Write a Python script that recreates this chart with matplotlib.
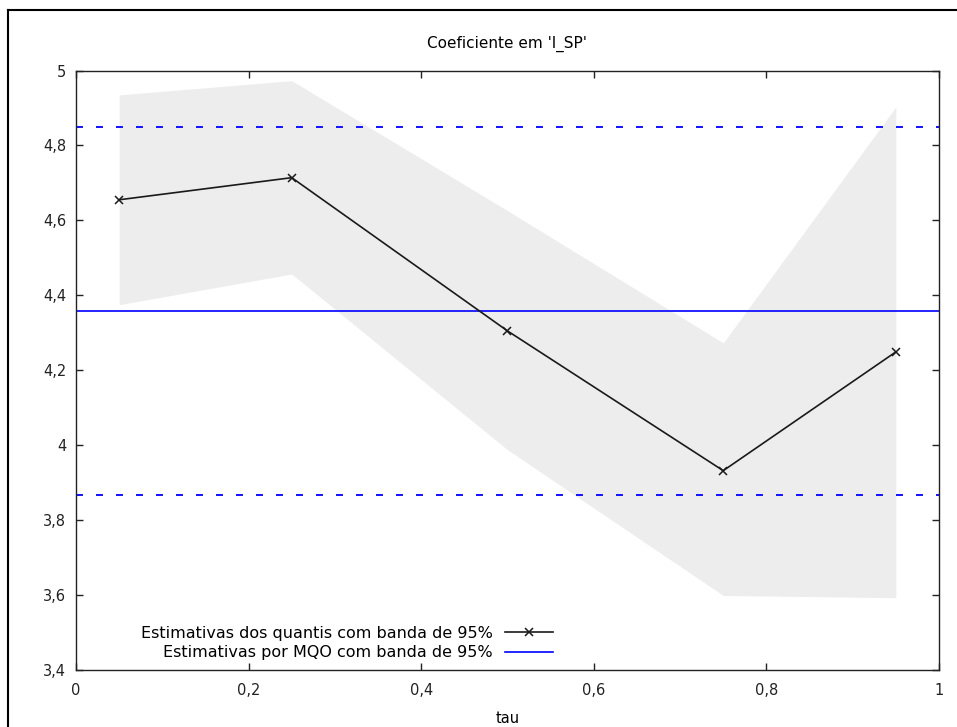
import matplotlib
matplotlib.use('Agg')
import matplotlib.pyplot as plt
from matplotlib.lines import Line2D

# quantile regression estimates of the coefficient on l_SP
tau = [0.05, 0.25, 0.50, 0.75, 0.95]
coef = [4.655, 4.714, 4.305, 3.932, 4.249]
band_low = [4.375, 4.457, 3.988, 3.599, 3.593]
band_high = [4.935, 4.973, 4.626, 4.273, 4.903]

# OLS estimate with 95% band
ols = 4.358
ols_low = 3.866
ols_high = 4.850

xticks = [0, 0.2, 0.4, 0.6, 0.8, 1.0]
xtick_labels = ['0', '0,2', '0,4', '0,6', '0,8', '1']
yticks = [3.4, 3.6, 3.8, 4.0, 4.2, 4.4, 4.6, 4.8, 5.0]
ytick_labels = ['3,4', '3,6', '3,8', '4', '4,2', '4,4', '4,6', '4,8', '5']

plt.rcParams['font.family'] = 'DejaVu Sans'
plt.rcParams['lines.scale_dashes'] = False

fig = plt.figure(figsize=(9.57, 7.27), dpi=100)
ax = fig.add_axes([0.0794, 0.0784, 0.9018, 0.8246])

ax.fill_between(tau, band_low, band_high, color='#ededed', linewidth=0, zorder=1)
ax.axhline(ols_high, color='#0000ff', linewidth=1.3, dashes=(5, 9.4), zorder=2)
ax.axhline(ols_low, color='#0000ff', linewidth=1.3, dashes=(5, 9.4), zorder=2)
ax.axhline(ols, color='#0000ff', linewidth=1.2, zorder=2,
           label='Estimativas por MQO com banda de 95%')
ax.plot(tau, coef, color='#1a1a1a', linewidth=1.2, marker='x', markersize=6,
        markeredgewidth=1.1, zorder=3,
        label='Estimativas dos quantis com banda de 95%')

ax.set_xlim(0, 1)
ax.set_ylim(3.4, 5.0)
ax.set_xticks(xticks)
ax.set_xticklabels(xtick_labels)
ax.set_yticks(yticks)
ax.set_yticklabels(ytick_labels)
ax.tick_params(direction='in', length=5, width=1, top=True, right=True,
               labelsize=10.5, colors='#222222')
ax.tick_params(axis='y', pad=7)
ax.tick_params(axis='x', pad=9)
for s in ax.spines.values():
    s.set_linewidth(1.0)
    s.set_color('#222222')

ax.set_title("Coeficiente em 'l_SP'", fontsize=11, pad=16.5)
ax.set_xlabel('tau', fontsize=10.5, labelpad=9.5)

h, l = ax.get_legend_handles_labels()
ax.legend(h[::-1], l[::-1], loc='center right', bbox_to_anchor=(0.5527, 0.045),
          frameon=False, markerfirst=False, numpoints=1, fontsize=11.5,
          handlelength=3.0, handletextpad=0.75, labelspacing=0.3,
          borderpad=0, borderaxespad=0)

# screenshot frame
fig.add_artist(Line2D([8 / 957, 1], [1 - 10 / 727, 1 - 10 / 727],
                      transform=fig.transFigure, color='black', linewidth=1.5))
fig.add_artist(Line2D([8 / 957, 8 / 957], [0, 1 - 10 / 727],
                      transform=fig.transFigure, color='black', linewidth=1.5))

plt.savefig('out.png', dpi=100)
